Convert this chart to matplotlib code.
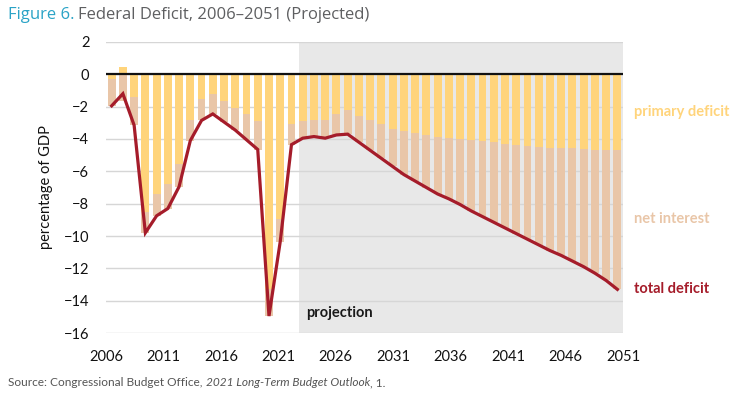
import numpy as np
import matplotlib
matplotlib.use('Agg')
import matplotlib.pyplot as plt

# Dati (percentuale del PIL)
years = list(range(2006, 2052))

primary_deficit = [
    -0.3, 0.45, -1.4, -8.5, -7.4, -6.8, -5.55, -2.8, -1.55, -1.2,
    -1.65, -2.1, -2.45, -2.9, -13.3, -8.95, -3.1, -2.9, -2.8, -2.85,
    -2.45, -2.2, -2.55, -2.85, -3.05, -3.4, -3.5, -3.65, -3.75, -3.85,
    -3.95, -4.0, -4.05, -4.15, -4.2, -4.3, -4.4, -4.45, -4.5, -4.55,
    -4.55, -4.55, -4.6, -4.65, -4.7, -4.7,
]

net_interest = [
    -1.65, -1.65, -1.75, -1.3, -1.35, -1.5, -1.4, -1.3, -1.3, -1.25,
    -1.3, -1.35, -1.6, -1.75, -1.65, -1.4, -1.25, -1.05, -1.05, -1.1,
    -1.3, -1.5, -1.65, -1.85, -2.15, -2.3, -2.7, -2.95, -3.25, -3.55,
    -3.75, -4.05, -4.4, -4.65, -4.95, -5.2, -5.45, -5.75, -6.05, -6.35,
    -6.65, -7.0, -7.3, -7.65, -8.05, -8.6,
]

total_deficit = [
    -1.95, -1.2, -3.15, -9.8, -8.75, -8.3, -6.95, -4.1, -2.85, -2.45,
    -2.95, -3.45, -4.05, -4.65, -14.95, -10.35, -4.35, -3.95, -3.85, -3.95,
    -3.75, -3.7, -4.2, -4.7, -5.2, -5.7, -6.2, -6.6, -7.0, -7.4,
    -7.7, -8.05, -8.45, -8.8, -9.15, -9.5, -9.85, -10.2, -10.55, -10.9,
    -11.2, -11.55, -11.9, -12.3, -12.75, -13.3,
]

tick_years = [2006, 2011, 2016, 2021, 2026, 2031, 2036, 2041, 2046, 2051]
y_ticks = list(range(-16, 3, 2))
projection_start = 2022.65

# Colori
YELLOW = '#FFD47B'
TAN = '#E9C6A8'
RED = '#A51C2A'
GREY_BG = '#E8E8E8'
GRID = '#D6D6D6'

plt.rcParams['font.family'] = ['Lato', 'DejaVu Sans']

fig = plt.figure(figsize=(7.43, 3.96), dpi=100)
ax = fig.add_axes([0.1427, 0.159, 0.6958, 0.735])

# Area di proiezione
ax.axvspan(projection_start, years[-1] + 0.5, color=GREY_BG, zorder=0, lw=0)

# Griglia orizzontale
for y in y_ticks:
    ax.axhline(y, color=GRID, lw=1, zorder=1)

# Barre impilate: deficit primario e interessi netti
bottoms = [min(p, 0) for p in primary_deficit]
ax.bar(years, primary_deficit, width=0.7, color=YELLOW, zorder=2, lw=0)
ax.bar(years, net_interest, bottom=bottoms, width=0.7, color=TAN, zorder=2, lw=0)

# Linea del deficit totale
ax.plot(years, total_deficit, color=RED, lw=2.3, zorder=4, solid_joinstyle='miter')

ax.axhline(0, color='#111111', lw=1.6, zorder=5)

ax.set_xlim(years[0] - 0.5, years[-1] + 0.5)
ax.set_ylim(-16, 2)
ax.set_xticks(np.linspace(years[0] - 0.5, years[-1] + 0.5, len(tick_years)))
ax.set_xticklabels([str(t) for t in tick_years])
ax.set_yticks(y_ticks)
ax.set_yticklabels([str(t).replace('-', '\u2212') for t in y_ticks])
ax.tick_params(length=0, labelsize=10.5, colors='#111111')
ax.tick_params(axis='y', pad=12)
ax.tick_params(axis='x', pad=12)
for s in ax.spines.values():
    s.set_visible(False)

ax.set_ylabel('percentage of GDP', fontsize=10.5, color='#111111', labelpad=8)

ax.text(2023.3, -14.75, 'projection', fontsize=10.5, fontweight='bold',
        color='#1a1a1a', va='center', ha='left', zorder=6)

# Etichette a destra
fig.text(0.853, 0.717, 'primary deficit', color=YELLOW, fontsize=10.5,
         fontweight='bold', va='center')
fig.text(0.853, 0.447, 'net interest', color=TAN, fontsize=10.5,
         fontweight='bold', va='center')
fig.text(0.853, 0.270, 'total deficit', color=RED, fontsize=10.5,
         fontweight='bold', va='center')

# Titolo
t1 = fig.text(0.011, 0.962, 'Figure 6.', color='#2AA3C6', fontsize=12,
              va='center', family=['Open Sans', 'DejaVu Sans'])
fig.canvas.draw()
bb = t1.get_window_extent()
x2 = fig.transFigure.inverted().transform((bb.x1, 0))[0]
fig.text(x2 + 0.005, 0.962, 'Federal Deficit, 2006\u20132051 (Projected)',
         color='#5E5F61', fontsize=12, va='center', family=['Open Sans', 'DejaVu Sans'])

# Fonte
s1 = fig.text(0.011, 0.033, 'Source: Congressional Budget Office, ', color='#555555',
              fontsize=8.6, va='center')
fig.canvas.draw()
bb = s1.get_window_extent()
xs = fig.transFigure.inverted().transform((bb.x1, 0))[0]
s2 = fig.text(xs, 0.033, '2021 Long-Term Budget Outlook', color='#555555',
              fontsize=8.6, va='center', style='italic')
fig.canvas.draw()
bb = s2.get_window_extent()
xs = fig.transFigure.inverted().transform((bb.x1, 0))[0]
fig.text(xs, 0.033, ', 1.', color='#555555', fontsize=8.6, va='center')

fig.savefig('out.png', dpi=100)
